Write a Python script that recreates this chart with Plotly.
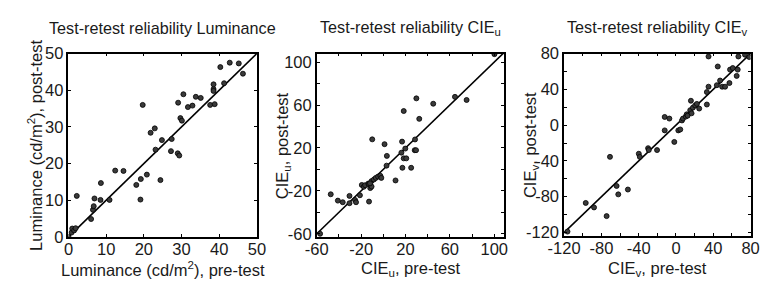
import plotly.graph_objects as go

# ---------------- data ----------------
lum_pre = [0, 0.8, 1.0, 1.5, 1.9, 2.2, 6.0, 6.5, 6.7, 6.9, 8.5, 8.6, 10.9, 12.4, 14.6,
           18.0, 19.1, 19.2, 19.7, 20.8, 21.8, 22.9, 23.1, 24.4, 24.8, 27.2, 27.4,
           29.0, 29.4, 29.1, 29.7, 30.1, 30.5, 31.7, 32.9, 33.8, 35.1, 37.6, 38.5,
           38.5, 38.5, 38.8, 41.3, 40.3, 42.8, 45.2, 46.3]
lum_post = [0, 1.2, 2.3, 1.8, 2.4, 11.2, 4.9, 7.4, 8.4, 10.5, 10.1, 14.7, 10.1, 18.1, 18.0,
            14.2, 10.2, 15.8, 36.0, 17.0, 28.4, 29.6, 23.8, 15.5, 26.4, 23.4, 26.7,
            22.8, 22.2, 36.6, 32.4, 31.7, 38.9, 35.4, 35.8, 38.2, 37.9, 36.0, 40.3,
            41.6, 39.8, 36.2, 41.9, 46.3, 47.5, 47.3, 44.5]

cu_pre = [-57, -47.4, -41, -36.6, -30.5, -30.5, -25.5, -24.6, -21.1, -19.4, -17.6, -16.4,
          -13.5, -12.9, -11.8, -12.9, -10, -10.6, -8.5, -6.8, -4.7, -2.7, -1.8, -10.6,
          -12, 1.1, 3.2, 2.9, 11, 16.3, 16.9, 17.2, 18.4, 18.4, 20.7, 19.8, 25.1, 28.6,
          28.3, 29.5, 29.8, 32.4, 45, 64.6, 75.1, 100.2]
cu_post = [-60, -23.2, -29.1, -30.6, -24.7, -31.5, -28.5, -30.6, -24.1, -14.5, -16.2, -14.7,
           -13.2, -13.8, -17.4, -30, 28, -10.9, -9.4, -7.9, -6.7, -5.9, -7.9, -16,
           -13, 23.5, 12.6, 3.5, -10.3, 15.6, 25.9, 1.5, 54.4, 10.3, 10.3, 19.4, 1.5, 27.9,
           17.9, 17.9, 66.2, 47.1, 61.2, 67.6, 64.7, 107.4]

cv_pre = [-116.4, -96.8, -87.9, -74.4, -70.8, -63.7, -61.9, -51.6, -39.9, -38.8, -29.9,
          -29.2, -20.3, -12.1, -12.1, -7.1, -1.8, 2.5, 4.6, 6.4, 7.5, 10.5, 11.5, 12.5,
          15.3, 16.0, 16.7, 18.1, 20.6, 22.4, 24.9, 33.1, 33.1, 34.9, 34.9, 43.8, 44.8,
          47.3, 49.5, 52.7, 57.3, 58.0, 60.9, 65.1, 66.2, 66.9, 74.0, 78.6]
cv_post = [-119, -87, -92, -101.7, -35.5, -68, -77.4, -72, -32, -35.5, -25.8,
           -27.9, -27.9, 9.1, -5.9, 7.3, -18.8, -5.9, -4.9, 5.2, 7.3, 9.5, 12.0, 10.5,
           16.7, 27.2, 13.2, 19.5, 22.0, 23.7, 18.5, 23.0, 36.9, 42.9, 76.7, 44.6, 65.5,
           49.8, 42.9, 42.9, 47.0, 62.0, 63.8, 55.0, 62.0, 76.7, 78.7, 76.0]

# identity reference lines (endpoints in data units)
lum_line = [0, 50]
cu_line = [-60, 109]
cv_line = [-123, 80]

titles = ["Test-retest reliability Luminance",
          "Test-retest reliability CIE<sub>u</sub>",
          "Test-retest reliability CIE<sub>v</sub>"]
xtitles = ["Luminance (cd/m<sup>2</sup>), pre-test",
           "CIE<sub>u</sub>, pre-test",
           "CIE<sub>v</sub>, pre-test"]
ytitles = ["Luminance (cd/m<sup>2</sup>), post-test",
           "CIE<sub>u</sub>, post-test",
           "CIE<sub>v</sub>, post-test"]

lum_ticks = [0, 10, 20, 30, 40, 50]
cu_ticks = [-60, -40, -20, 0, 20, 40, 60, 80, 100]
cu_labels = ["-60", "", "-20", "", "20", "", "60", "", "100"]
cv_ticks = [-120, -100, -80, -60, -40, -20, 0, 20, 40, 60, 80]
cv_labels = ["-120", "", "-80", "", "-40", "", "0", "", "40", "", "80"]

# ---------------- figure ----------------
W, H = 768, 282
FONT = "Liberation Sans, Arial, Helvetica, sans-serif"
TXT = "#1a1a1a"

panels = [
    dict(x=lum_pre, y=lum_post, line=lum_line, xr=[0, 50], yr=[0, 50],
         tv=lum_ticks, tt=[str(v) for v in lum_ticks], px=(45, 240), py=(39, 235)),
    dict(x=cu_pre, y=cu_post, line=cu_line, xr=[-60, 109], yr=[-63, 108],
         tv=cu_ticks, tt=cu_labels, px=(302, 496), py=(39, 235)),
    dict(x=cv_pre, y=cv_post, line=cv_line, xr=[-120, 80], yr=[-124, 80],
         tv=cv_ticks, tt=cv_labels, px=(558, 751), py=(39, 234)),
]

fig = go.Figure()
layout = dict(width=W, height=H, margin=dict(l=0, r=0, t=0, b=0),
              paper_bgcolor="white", plot_bgcolor="white", showlegend=False,
              font=dict(family=FONT, size=16, color=TXT))
annotations = []
for i, p in enumerate(panels):
    k = "" if i == 0 else str(i + 1)
    xa, ya = "x" + k, "y" + k
    fig.add_trace(go.Scatter(x=p["line"], y=p["line"], mode="lines",
                             line=dict(color="black", width=1.6),
                             xaxis=xa, yaxis=ya, hoverinfo="skip"))
    fig.add_trace(go.Scatter(x=p["x"], y=p["y"], mode="markers",
                             marker=dict(size=5, color="#3a3a3a",
                                         line=dict(color="black", width=0.8)),
                             xaxis=xa, yaxis=ya))
    xd = [p["px"][0] / W, p["px"][1] / W]
    yd = [1 - p["py"][1] / H, 1 - p["py"][0] / H]
    common = dict(showgrid=False, zeroline=False, showline=True, linecolor="black",
                  linewidth=1.6, mirror="ticks", ticks="inside", ticklen=3,
                  tickwidth=1, tickcolor="black", tickmode="array",
                  tickvals=p["tv"], ticktext=p["tt"],
                  tickfont=dict(family=FONT, size=16.5, color=TXT))
    layout["xaxis" + k] = dict(common, domain=xd, range=p["xr"],
                               anchor=ya, fixedrange=True, ticklabelstandoff=-4)
    layout["yaxis" + k] = dict(common, domain=yd, range=p["yr"],
                               anchor=xa, fixedrange=True)
    cx = (p["px"][0] + p["px"][1]) / 2 / W
    annotations.append(dict(text=titles[i], x=cx, y=1 - 12 / H, xref="paper",
                            yref="paper", showarrow=False, xanchor="center",
                            yanchor="middle",
                            font=dict(family=FONT, size=16.2, color=TXT)))
    annotations.append(dict(text=xtitles[i], x=cx, y=1 - 269 / H, xref="paper",
                            yref="paper", showarrow=False, xanchor="center",
                            yanchor="middle",
                            font=dict(family=FONT, size=16.5, color=TXT)))
    ytx = [11, 267, 523][i]
    cy = 1 - (p["py"][0] + p["py"][1]) / 2 / H
    annotations.append(dict(text=ytitles[i], x=ytx / W, y=cy, xref="paper",
                            yref="paper", showarrow=False, xanchor="center",
                            yanchor="middle", textangle=-90,
                            font=dict(family=FONT, size=16.5, color=TXT)))
layout["annotations"] = annotations
fig.update_layout(**layout)
fig.write_html("out.html")
